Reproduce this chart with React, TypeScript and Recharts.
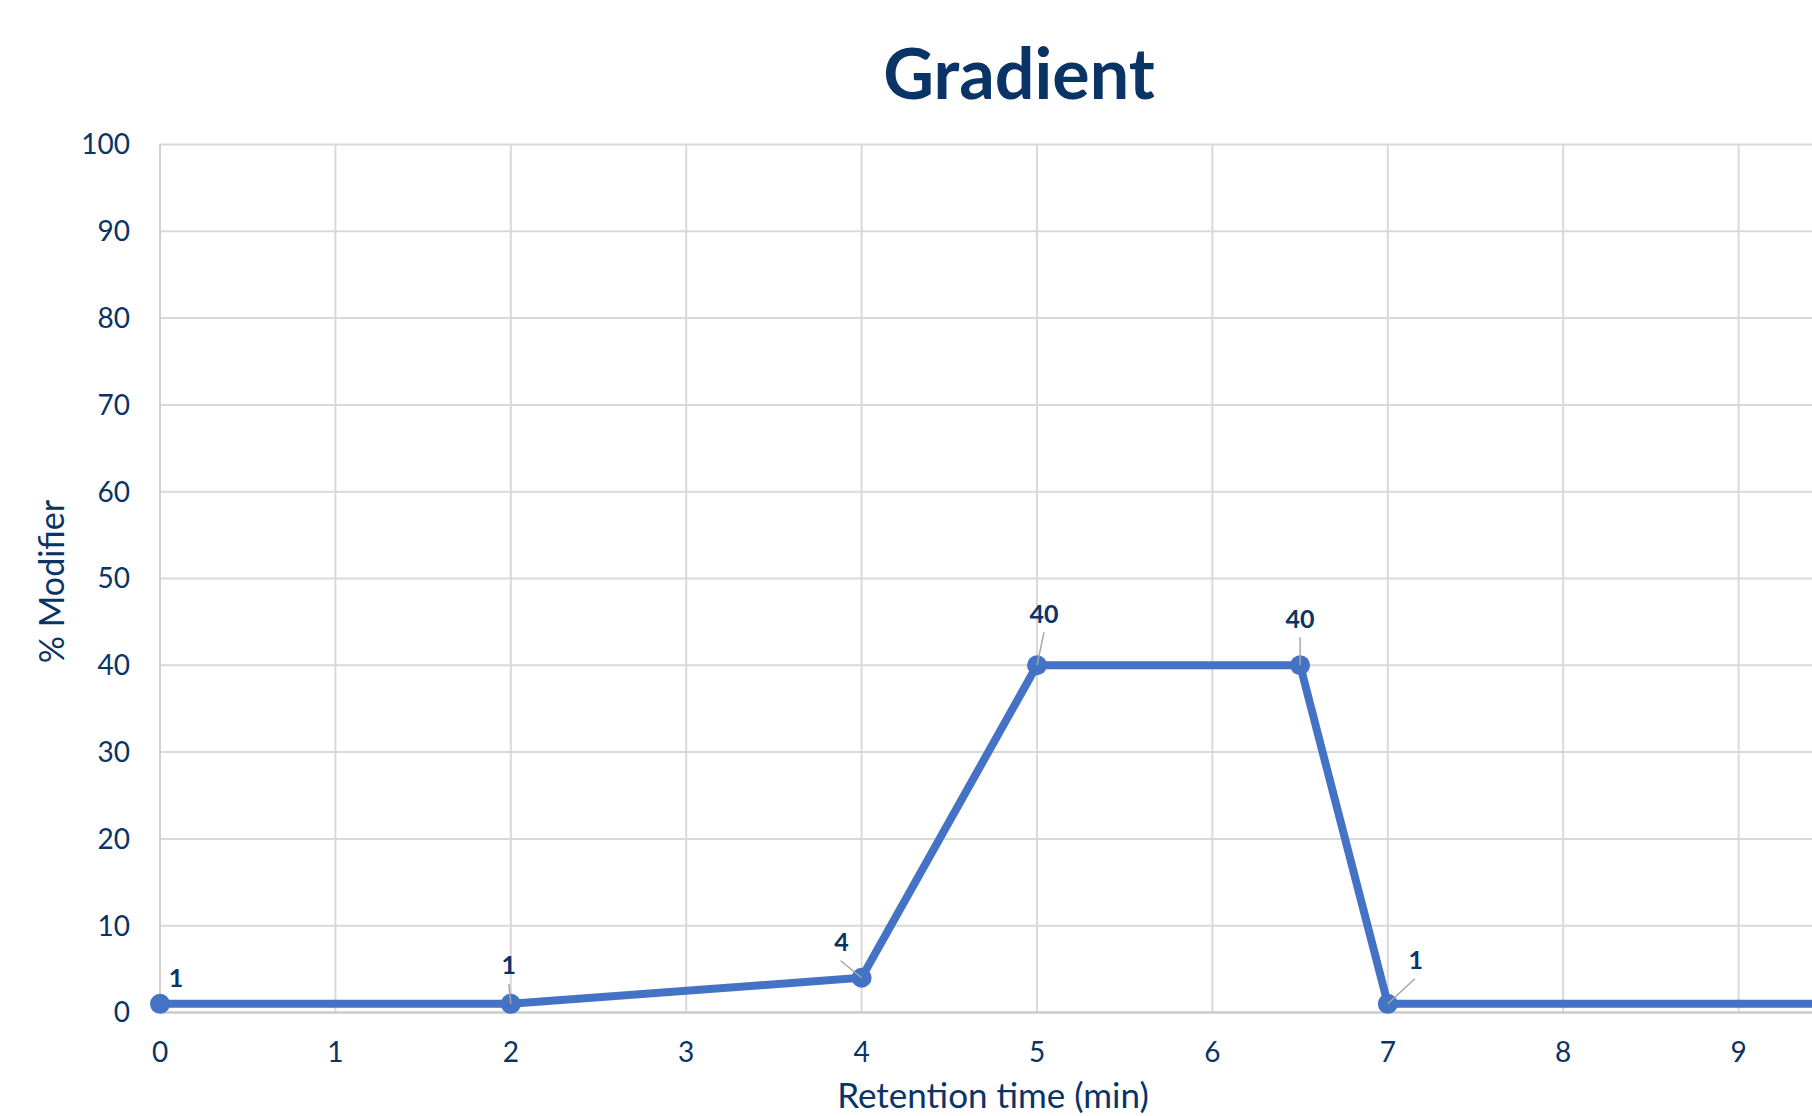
import { LineChart, Line, XAxis, YAxis, CartesianGrid, LabelList, Label } from 'recharts'

// retention time (min) vs % modifier
const times = [0, 2, 4, 5, 6.5, 7, 10]
const modifier = [1, 1, 4, 40, 40, 1, 1]
const xTicks = [0, 1, 2, 3, 4, 5, 6, 7, 8, 9]
const yTicks = [0, 10, 20, 30, 40, 50, 60, 70, 80, 90, 100]

const data = times.map((t, i) => ({ t, v: modifier[i] }))

const NAVY = '#0a3366'
const BLUE = '#4472c4'
const GRID = '#d9d9d9'
const FONT = 'Lato, "Noto Sans", sans-serif'

// label placement relative to each point (dx, dy to baseline), plus optional leader line start
// last point sits past the right edge, so it gets no label
const labelPlace: ({ dx: number; dy: number; lead?: [number, number] } | null)[] = [
  { dx: 16, dy: -17 },
  { dx: -2, dy: -30, lead: [-2, -20] },
  { dx: -20, dy: -27, lead: [-21, -17] },
  { dx: 7, dy: -42, lead: [7, -33] },
  { dx: 0, dy: -37, lead: [0, -28] },
  { dx: 28, dy: -35, lead: [27, -25] },
  null,
]

function PointLabel(props: any) {
  const { x, y, value, index } = props
  const p = labelPlace[index]
  if (!p) return null
  return (
    <g>
      {p.lead && (
        <line x1={x + p.lead[0]} y1={y + p.lead[1]} x2={x} y2={y} stroke="#a6a6a6" strokeWidth={1.5} />
      )}
      <text x={x + p.dx} y={y + p.dy} textAnchor="middle" fill={NAVY} fontSize={25} fontWeight={700} fontFamily={FONT}>
        {value}
      </text>
    </g>
  )
}

function YTitle(props: any) {
  const { viewBox } = props
  const cy = viewBox.y + viewBox.height / 2 + 3
  return (
    <text x={64} y={cy} transform={`rotate(-90, 64, ${cy})`} textAnchor="middle" fill={NAVY} fontSize={34} fontFamily={FONT}>
      % Modifier
    </text>
  )
}

function XTitle(props: any) {
  const { viewBox } = props
  return (
    <text x={993} y={viewBox.y + 95} textAnchor="middle" fill={NAVY} fontSize={35} fontFamily={FONT}>
      Retention time (min)
    </text>
  )
}

export default function App() {
  return (
    <div style={{ position: 'fixed', left: 0, top: 0, width: 1812, height: 1116, overflow: 'hidden', background: '#fff' }}>
      <div
        style={{
          position: 'absolute', left: 0, top: 37, width: 2038, textAlign: 'center',
          fontFamily: FONT, fontWeight: 700, fontSize: 70, lineHeight: '70px', color: NAVY,
        }}
      >
        Gradient
      </div>
      <div style={{ position: 'absolute', left: 0, top: 0 }}>
        <LineChart width={2040} height={1200} data={data} margin={{ top: 144.5, right: 126, left: 0, bottom: 87.5 }}>
          <CartesianGrid stroke={GRID} strokeWidth={2} />
          <XAxis
            dataKey="t"
            type="number"
            domain={[0, 10]}
            ticks={xTicks}
            height={100}
            tickLine={false}
            tickSize={0}
            tickMargin={30}
            axisLine={{ stroke: '#c8c8c8', strokeWidth: 2 }}
            tick={{ fill: NAVY, fontSize: 28, fontFamily: FONT }}
          >
            <Label content={XTitle} />
          </XAxis>
          <YAxis
            domain={[0, 100]}
            ticks={yTicks}
            width={160}
            tickLine={false}
            tickSize={0}
            tickMargin={30}
            axisLine={{ stroke: '#d0d0d0', strokeWidth: 2 }}
            tick={{ fill: NAVY, fontSize: 28, fontFamily: FONT }}
          >
            <Label content={YTitle} />
          </YAxis>
          <Line
            type="linear"
            dataKey="v"
            stroke={BLUE}
            strokeWidth={8}
            dot={{ r: 10, fill: BLUE, stroke: BLUE, strokeWidth: 0 }}
            activeDot={false}
            isAnimationActive={false}
          >
            <LabelList dataKey="v" content={PointLabel} />
          </Line>
        </LineChart>
      </div>
    </div>
  )
}
